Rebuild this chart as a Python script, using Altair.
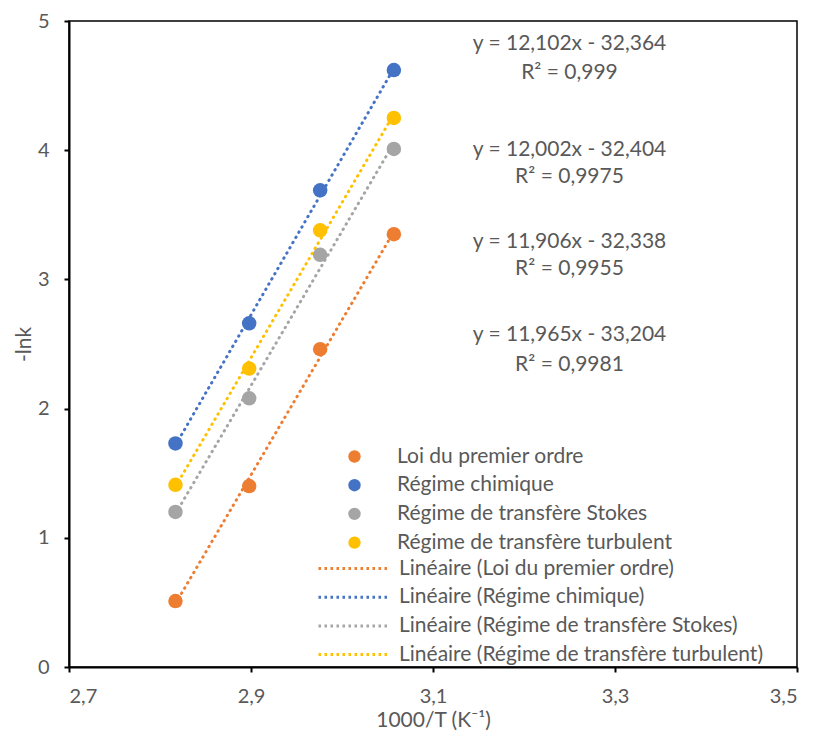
import altair as alt
import pandas as pd

# ---- data ----
x_vals = [2.817, 2.898, 2.976, 3.057]
series = ["Loi du premier ordre", "Régime chimique",
          "Régime de transfère Stokes", "Régime de transfère turbulent"]
y_premier = [0.51, 1.40, 2.46, 3.35]
y_chimique = [1.73, 2.66, 3.69, 4.62]
y_stokes = [1.20, 2.08, 3.19, 4.01]
y_turbulent = [1.41, 2.31, 3.38, 4.25]
colors = ["#ED7D31", "#4472C4", "#A5A5A5", "#FFC000"]

eq_texts = ["y = 12,102x - 32,364", "R² = 0,999",
            "y = 12,002x - 32,404", "R² = 0,9975",
            "y = 11,906x - 32,338", "R² = 0,9955",
            "y = 11,965x - 33,204", "R² = 0,9981"]
eq_x = [3.250] * 8
eq_y = [4.82, 4.60, 4.00, 3.79, 3.29, 3.08, 2.57, 2.34]

trends = ["Linéaire (" + s + ")" for s in series]

rows = []
for s, t, ys in zip(series, trends, [y_premier, y_chimique, y_stokes, y_turbulent]):
    for xv, yv in zip(x_vals, ys):
        rows.append({"x": xv, "y": yv, "serie": s, "trend": t})
df = pd.DataFrame(rows)
df_eq = pd.DataFrame({"x": eq_x, "y": eq_y, "t": eq_texts})

FONT = "Lato"
FS = 21
GREY = "#595959"

xscale = alt.Scale(domain=[2.7, 3.5], nice=False, zero=False)
yscale = alt.Scale(domain=[0, 5], nice=False)

xaxis = alt.Axis(values=[2.7, 2.9, 3.1, 3.3, 3.5], format=".1f",
                 labelExpr="replace(datum.label, '.', ',')",
                 title="1000/T (K⁻¹)", grid=False)
yaxis = alt.Axis(values=[0, 1, 2, 3, 4, 5], format="d", title="-lnk", grid=False)

lines = alt.Chart(df).transform_regression(
    "x", "y", groupby=["trend"]
).mark_line(strokeDash=[0.5, 5.5], strokeCap="round", strokeWidth=3).encode(
    x=alt.X("x:Q", scale=xscale, axis=xaxis),
    y=alt.Y("y:Q", scale=yscale, axis=yaxis),
    stroke=alt.Stroke("trend:N", scale=alt.Scale(domain=trends, range=colors),
                      legend=alt.Legend(title=None, orient="none", legendX=273, legendY=536,
                                        symbolType="M-3.5,0H3.5", symbolDash=[2.5, 3.5],
                                        symbolStrokeWidth=3, symbolSize=400,
                                        symbolOpacity=1,
                                        labelOffset=34, rowPadding=6.7, padding=0,
                                        labelLimit=600)),
)

points = alt.Chart(df).mark_circle(size=210, opacity=1).encode(
    x=alt.X("x:Q", scale=xscale, axis=xaxis),
    y=alt.Y("y:Q", scale=yscale, axis=yaxis),
    fill=alt.Fill("serie:N", scale=alt.Scale(domain=series, range=colors),
                  legend=alt.Legend(title=None, orient="none", legendX=275, legendY=425,
                                    symbolType="circle", symbolSize=154,
                                    symbolOpacity=1,
                                    labelOffset=32, rowPadding=6.7, padding=0,
                                    labelLimit=600)),
    order=alt.Order("serie:N"),
)

texts = alt.Chart(df_eq).mark_text(font=FONT, fontSize=FS, color=GREY, align="center",
                                   baseline="middle").encode(
    x=alt.X("x:Q", scale=xscale),
    y=alt.Y("y:Q", scale=yscale),
    text="t:N",
)

chart = alt.layer(lines, points, texts).resolve_scale(
    fill="independent", stroke="independent"
).properties(
    width=728, height=646, background="white",
    autosize=alt.AutoSizeParams(type="none"),
    padding={"left": 61, "top": 13, "right": 8, "bottom": 64},
).configure_view(
    stroke="black", strokeWidth=1.5
).configure_axis(
    domainColor="black", domainWidth=2, tickColor="black", tickWidth=2, tickSize=5,
    labelFont=FONT, labelFontSize=20, labelColor=GREY,
    titleFont=FONT, titleFontSize=FS, titleColor=GREY, titleFontWeight="normal",
).configure_axisY(titlePadding=3, labelPadding=15).configure_axisX(
    titlePadding=3, labelPadding=14
).configure_legend(
    labelFont=FONT, labelFontSize=FS, labelColor=GREY
)

chart.save("out.html", embed_options={"renderer": "svg", "actions": False})
